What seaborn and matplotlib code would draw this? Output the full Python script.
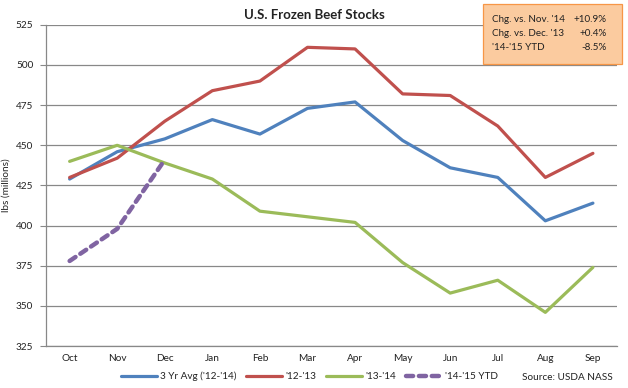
import matplotlib
matplotlib.use("Agg")
import matplotlib.pyplot as plt
import seaborn as sns
import pandas as pd
from matplotlib.patches import FancyBboxPatch

months = ["Oct", "Nov", "Dec", "Jan", "Feb", "Mar", "Apr", "May", "Jun", "Jul", "Aug", "Sep"]
avg_12_14 = [429, 446, 454, 466, 457, 473, 477, 453, 436, 430, 403, 414]
s_12_13 = [430, 442, 465, 484, 490, 511, 510, 482, 481, 462, 430, 445]
s_13_14 = [440, 450, 439, 429, 409, 405.5, 402, 377, 358, 366, 346, 374]
s_14_15 = [378, 398, 441]

series_names = ["3 Yr Avg ('12-'14)", "'12-'13", "'13-'14", "'14-'15 YTD"]
colors = ["#4F81BD", "#C0504D", "#9BBB59", "#8064A2"]

sns.set_theme(style="white")
plt.rcParams['font.family'] = ['Lato', 'DejaVu Sans']

fig = plt.figure(figsize=(6.28, 3.88), dpi=100)
ax = fig.add_axes([0.073, 0.108, 0.909, 0.828])

frames = []
for name, vals in zip(series_names, [avg_12_14, s_12_13, s_13_14, s_14_15]):
    frames.append(pd.DataFrame({"x": range(len(vals)), "v": vals, "series": name}))
df = pd.concat(frames, ignore_index=True)

for name, col in zip(series_names, colors):
    sub = df[df.series == name]
    if name == "'14-'15 YTD":
        sns.lineplot(data=sub, x="x", y="v", ax=ax, color=col, lw=3.2,
                     linestyle=(0, (1.6, 1.3)), dash_capstyle="round", label=name)
    else:
        sns.lineplot(data=sub, x="x", y="v", ax=ax, color=col, lw=2.3, label=name)

ax.set_xlim(-0.5, 11.5)
ax.set_ylim(325, 525)
ax.set_yticks(range(325, 526, 25))
ax.set_xticks(range(12))
ax.set_xticklabels(months)
ax.tick_params(axis="both", labelsize=7.2, colors="#222222", length=0, pad=6)
ax.tick_params(axis="y", left=True, length=4, color="#888888", width=0.8, pad=5)
ax.yaxis.grid(True, color="#888888", lw=0.9)
for s in ["top", "right"]:
    ax.spines[s].set_visible(False)
for s in ["left", "bottom"]:
    ax.spines[s].set_color("#888888")
    ax.spines[s].set_linewidth(0.9)
ax.set_xlabel("")
ax.set_ylabel("lbs (millions)", fontsize=7.2, color="#222222", labelpad=4)

fig.text(0.5, 0.962, "U.S. Frozen Beef Stocks", ha="center", va="center",
         fontsize=9.5, fontweight="bold", color="#222222")

leg = ax.legend(loc="center left", bbox_to_anchor=(0.192, 0.03), bbox_transform=fig.transFigure,
                ncol=4, frameon=False, borderaxespad=0, borderpad=0,
                fontsize=7.2, handlelength=3.6, columnspacing=1.0, handletextpad=0.3)
for t in leg.get_texts():
    t.set_color("#222222")
fig.text(0.976, 0.028, "Source: USDA NASS", ha="right", va="center", fontsize=7.2, color="#222222")

# annotation box
box = FancyBboxPatch((0.769, 0.835), 0.221, 0.155, transform=fig.transFigure,
                     boxstyle="square,pad=0", facecolor="#FBCB9F", edgecolor="#F79646", lw=0.9)
fig.patches.append(box)
rows = [("Chg. vs. Nov. '14", "+10.9%"), ("Chg. vs. Dec. '13", "+0.4%"), ("'14-'15 YTD", "-8.5%")]
for i, (l, r) in enumerate(rows):
    y = 0.951 - i * 0.037
    fig.text(0.783, y, l, ha="left", va="center", fontsize=7.1, color="#222222")
    fig.text(0.966, y, r, ha="right", va="center", fontsize=7.1, color="#222222")

fig.savefig("out.png", dpi=100)
